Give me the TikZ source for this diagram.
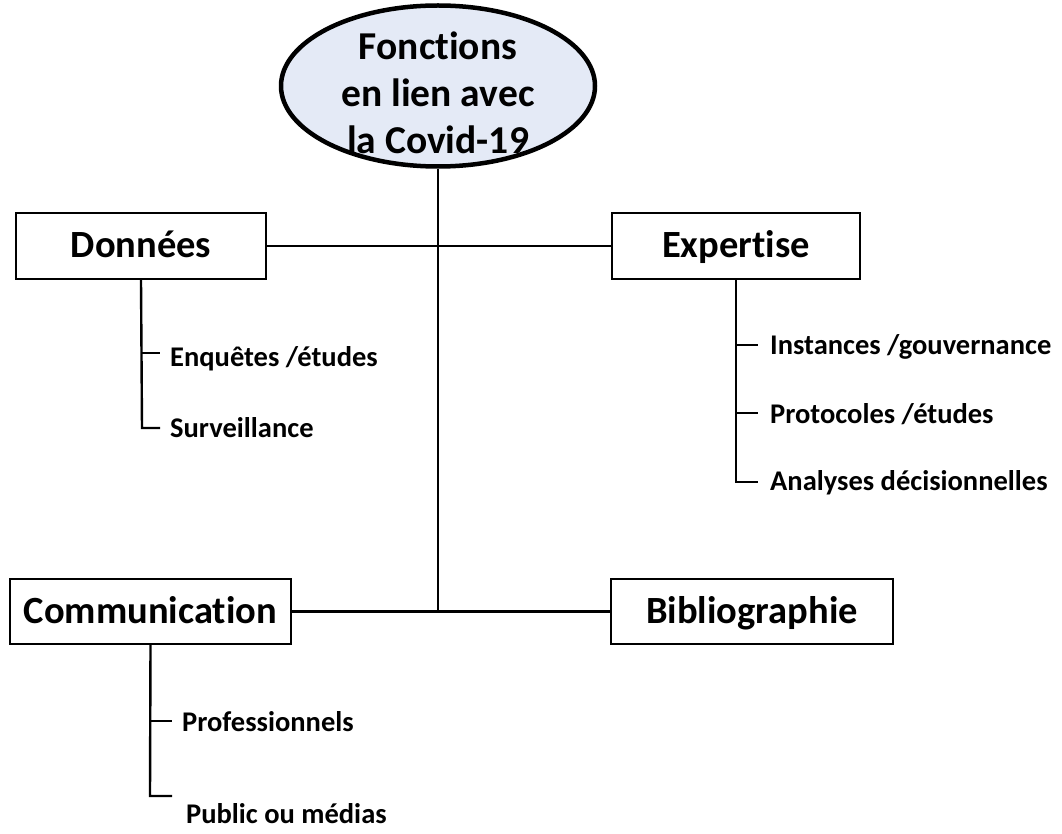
\documentclass[tikz,border=0pt]{standalone}
\usepackage{fontspec}
\setmainfont[Ligatures=NoCommon]{Carlito}
\usetikzlibrary{shapes.geometric}
\definecolor{ellfill}{RGB}{228,234,246}
\tikzset{
  box/.style={draw=black, line width=2.4pt, fill=white, rectangle, inner sep=0pt,
    text height=27pt, text depth=3pt,
    font=\fontsize{38.5}{38.5}\selectfont\bfseries},
  sub/.style={inner sep=0pt, anchor=base west, font=\fontsize{28.5}{28.5}\selectfont\bfseries},
  conn/.style={line width=2.4pt, draw=black},
}
\begin{document}
\begin{tikzpicture}[x=1pt,y=-1pt]
\useasboundingbox (0,0) rectangle (1062,834);
% root
\node[ellipse, draw=black, line width=4.5pt, fill=ellfill, minimum width=314pt, minimum height=161pt, inner sep=0pt] (root) at (438,86) {};
% boxes
\node[box, minimum width=250pt, minimum height=66pt] (don) at (141,246) {Données};
\node[box, minimum width=248pt, minimum height=66pt] (exp) at (736,246) {Expertise};
\node[box, minimum width=281pt, minimum height=65pt] (com) at (150.5,611.5) {Communication};
\node[box, minimum width=282pt, minimum height=65pt] (bib) at (752,611.5) {Bibliographie};
% connectors
\coordinate (junc) at (root.south |- com.east);
\draw[conn] (root.south) -- (junc);
\draw[conn] (don.east) -- (exp.west);
\draw[conn] (com.east) -- (bib.west);
% root text (over the border)
\node[align=center, inner sep=0pt, font=\fontsize{39.5}{47}\selectfont\bfseries] (roottext) at (438,93) {Fonctions\\en lien avec\\la Covid-19};
% Données subtree
\coordinate (d1) at (142,353);
\coordinate (d2) at (142,428);
\draw[conn] (don.south) -- (d2) -- ++(18,0);
\draw[conn] (d1) -- ++(18,0);
\node[sub] (enq) at (170,366) {Enquêtes /études};
\node[sub] (surv) at (170,437) {Surveillance};
% Expertise subtree
\coordinate (e1) at (736,345);
\coordinate (e2) at (736,413);
\coordinate (e3) at (736,482);
\draw[conn] (exp.south) -- (e3) -- ++(22,0);
\draw[conn] (e1) -- ++(22,0);
\draw[conn] (e2) -- ++(22,0);
\node[sub] (inst) at (770,354) {Instances /gouvernance};
\node[sub] (prot) at (770,423) {Protocoles /études};
\node[sub] (anal) at (770,490) {Analyses décisionnelles};
% Communication subtree
\coordinate (c1) at (150,721);
\coordinate (c2) at (150,796);
\draw[conn] (com.south) -- (c2) -- ++(22,0);
\draw[conn] (c1) -- ++(22,0);
\node[sub] (prof) at (182,731) {Professionnels};
\node[sub] (pub) at (186,823) {Public ou médias};
\end{tikzpicture}
\end{document}
